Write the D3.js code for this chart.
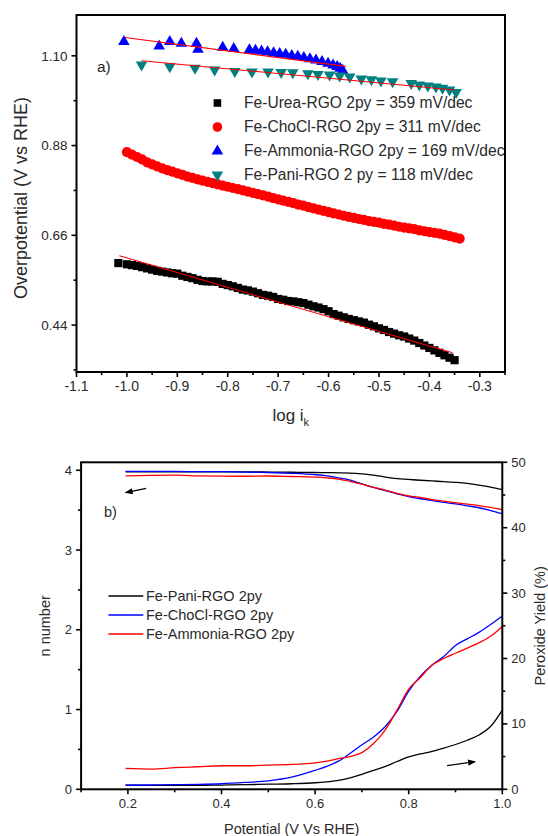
<!DOCTYPE html>
<html><head><meta charset="utf-8">
<script src="https://cdn.jsdelivr.net/npm/d3@7"></script>
<style>
body{margin:0;background:#fff}
svg{display:block;font-family:"Liberation Sans",Arial,sans-serif}
</style>
</head><body>
<svg id="c" width="548" height="836"></svg>
<script>
// ---------------- Panel a) Tafel data ----------------
const tafelLabels = [
  "Fe-Urea-RGO 2py = 359 mV/dec",
  "Fe-ChoCl-RGO 2py = 311 mV/dec",
  "Fe-Ammonia-RGO 2py = 169 mV/dec",
  "Fe-Pani-RGO 2 py = 118 mV/dec"
];
const tafelColors = ["#000000", "#ff0000", "#0000ff", "#008080"];

const ureaX = [-1.017,-1.00,-0.99,-0.98,-0.97,-0.96,-0.95,-0.94,-0.93,-0.92,-0.91,-0.90,-0.89,-0.88,-0.87,-0.86,-0.85,-0.84,-0.83,-0.82,-0.81,-0.80,-0.79,-0.78,-0.77,-0.76,-0.75,-0.74,-0.73,-0.72,-0.71,-0.70,-0.69,-0.68,-0.67,-0.66,-0.65,-0.64,-0.63,-0.62,-0.61,-0.60,-0.59,-0.58,-0.57,-0.56,-0.55,-0.54,-0.53,-0.52,-0.51,-0.50,-0.49,-0.48,-0.47,-0.46,-0.45,-0.44,-0.43,-0.42,-0.41,-0.40,-0.39,-0.38,-0.37,-0.36,-0.35];
const ureaY = [0.592,0.589,0.587,0.585,0.582,0.579,0.576,0.573,0.571,0.569,0.567,0.566,0.561,0.558,0.555,0.551,0.548,0.547,0.547,0.546,0.541,0.538,0.535,0.531,0.527,0.525,0.522,0.518,0.514,0.512,0.509,0.504,0.502,0.499,0.498,0.496,0.494,0.490,0.486,0.483,0.479,0.474,0.467,0.463,0.459,0.455,0.452,0.449,0.446,0.441,0.437,0.432,0.428,0.423,0.419,0.415,0.412,0.407,0.402,0.396,0.390,0.384,0.378,0.372,0.366,0.360,0.354];

const cholX = [-1.00,-0.99,-0.98,-0.97,-0.96,-0.95,-0.94,-0.93,-0.92,-0.91,-0.90,-0.89,-0.88,-0.87,-0.86,-0.85,-0.84,-0.83,-0.82,-0.81,-0.80,-0.79,-0.78,-0.77,-0.76,-0.75,-0.74,-0.73,-0.72,-0.71,-0.70,-0.69,-0.68,-0.67,-0.66,-0.65,-0.64,-0.63,-0.62,-0.61,-0.60,-0.59,-0.58,-0.57,-0.56,-0.55,-0.54,-0.53,-0.52,-0.51,-0.50,-0.49,-0.48,-0.47,-0.46,-0.45,-0.44,-0.43,-0.42,-0.41,-0.40,-0.39,-0.38,-0.37,-0.36,-0.35,-0.34];
const cholY = [0.864,0.858,0.852,0.846,0.839,0.834,0.829,0.824,0.820,0.816,0.812,0.808,0.804,0.801,0.797,0.794,0.791,0.788,0.785,0.782,0.779,0.776,0.773,0.770,0.767,0.764,0.761,0.758,0.755,0.751,0.748,0.745,0.742,0.739,0.735,0.733,0.729,0.726,0.723,0.720,0.717,0.714,0.711,0.708,0.705,0.703,0.700,0.698,0.695,0.693,0.691,0.688,0.686,0.684,0.681,0.679,0.677,0.675,0.672,0.670,0.668,0.666,0.664,0.661,0.658,0.655,0.652];

const ammX = [-1.006,-0.936,-0.915,-0.892,-0.862,-0.859,-0.810,-0.788,-0.757,-0.745,-0.733,-0.721,-0.709,-0.697,-0.685,-0.673,-0.661,-0.649,-0.637,-0.625,-0.613,-0.601,-0.591,-0.583,-0.577,-0.572];
const ammY = [1.135,1.124,1.135,1.131,1.131,1.116,1.121,1.118,1.115,1.114,1.112,1.110,1.108,1.106,1.104,1.101,1.099,1.096,1.093,1.090,1.086,1.082,1.078,1.074,1.070,1.065];

const paniX = [-0.971,-0.915,-0.865,-0.826,-0.786,-0.752,-0.720,-0.694,-0.671,-0.641,-0.621,-0.598,-0.578,-0.558,-0.535,-0.515,-0.496,-0.473,-0.436,-0.420,-0.403,-0.387,-0.374,-0.360,-0.347];
const paniY = [1.077,1.073,1.069,1.065,1.061,1.060,1.060,1.059,1.058,1.056,1.054,1.053,1.050,1.048,1.043,1.041,1.038,1.036,1.032,1.028,1.026,1.023,1.020,1.016,1.010];

// linear fit end points [x, y]
const fitUrea = [[-1.015, 0.610], [-0.354, 0.372]];
const fitAmm  = [[-1.004, 1.145], [-0.566, 1.074]];
const fitPani = [[-0.971, 1.088], [-0.350, 1.016]];

const xTicksA = [-1.1,-1.0,-0.9,-0.8,-0.7,-0.6,-0.5,-0.4,-0.3];
const xMinorA = [-1.05,-0.95,-0.85,-0.75,-0.65,-0.55,-0.45,-0.35,-0.25];
const yTicksA = [0.44,0.66,0.88,1.10];
const yMinorA = [0.33,0.55,0.77,0.99];

// ---------------- Panel b) RRDE data ----------------
const rrdeLabels = ["Fe-Pani-RGO 2py", "Fe-ChoCl-RGO 2py", "Fe-Ammonia-RGO 2py"];
const rrdeColors = ["#000000", "#0000ff", "#ff0000"];
const potential = [0.195,0.25,0.30,0.35,0.40,0.45,0.50,0.55,0.60,0.625,0.65,0.675,0.70,0.725,0.75,0.775,0.80,0.825,0.85,0.875,0.90,0.925,0.95,0.975,1.0];
const nPani  = [3.98,3.98,3.98,3.98,3.98,3.98,3.978,3.975,3.972,3.97,3.968,3.965,3.955,3.94,3.915,3.895,3.885,3.875,3.866,3.858,3.848,3.835,3.815,3.79,3.758];
const nChoCl = [3.985,3.985,3.985,3.983,3.982,3.978,3.972,3.962,3.945,3.93,3.905,3.875,3.83,3.785,3.745,3.705,3.67,3.643,3.62,3.598,3.578,3.555,3.53,3.495,3.455];
const nAmm   = [3.93,3.935,3.938,3.93,3.926,3.925,3.928,3.922,3.915,3.905,3.89,3.862,3.825,3.785,3.752,3.71,3.68,3.66,3.632,3.612,3.594,3.575,3.558,3.535,3.505];
const h2o2Pani  = [0.62,0.6,0.62,0.6,0.65,0.7,0.78,0.85,1.0,1.15,1.35,1.75,2.3,2.9,3.5,4.25,4.95,5.4,5.8,6.3,6.85,7.5,8.3,9.6,12.1];
const h2o2ChoCl = [0.62,0.66,0.7,0.75,0.85,1.05,1.3,1.85,2.9,3.5,4.3,5.5,6.8,8.0,9.6,11.9,15.0,17.3,19.0,20.3,22.0,23.0,24.0,25.2,26.5];
const h2o2Amm   = [3.2,3.1,3.3,3.45,3.6,3.6,3.7,3.8,4.05,4.3,4.7,5.0,5.6,7.0,9.1,12.1,15.3,17.1,19.0,20.0,20.8,21.6,22.4,23.4,24.9];

const xTicksB = [0.2,0.4,0.6,0.8,1.0];
const xMinorB = [0.1,0.3,0.5,0.7,0.9];
const yTicksBL = [0,1,2,3,4];
const yMinorBL = [0.5,1.5,2.5,3.5];
const yTicksBR = [0,10,20,30,40,50];
const yMinorBR = [5,15,25,35,45];

// annotation arrows in data coords [x, y]
const arrowN = [[0.239, 3.774], [0.195, 3.719]];
const arrowP = [[0.882, 3.61], [0.942, 4.22]];

// ================= drawing =================
const svg = d3.select("#c");
const txt = "#2a2a2a";

// ---------- panel a ----------
const xA = d3.scaleLinear().domain([-1.1, -0.25]).range([76.5, 505]);
const yA = d3.scaleLinear().domain([0.325, 1.2]).range([372, 15]);
const gA = svg.append("g");

function ticks(g, scale, vals, orient, len, fmt, fs, pos) {
  vals.forEach(v => {
    const p = scale(v);
    if (orient === "bottom") {
      g.append("line").attr("x1", p).attr("x2", p).attr("y1", pos).attr("y2", pos + len).attr("stroke", "#000").attr("stroke-width", 1.6);
      if (fmt) g.append("text").attr("x", p).attr("y", pos + len + 14).attr("text-anchor", "middle").attr("font-size", fs).attr("fill", txt).text(fmt(v));
    } else if (orient === "left") {
      g.append("line").attr("y1", p).attr("y2", p).attr("x1", pos).attr("x2", pos - len).attr("stroke", "#000").attr("stroke-width", 1.6);
      if (fmt) g.append("text").attr("x", pos - len - 4).attr("y", p).attr("dy", "0.35em").attr("text-anchor", "end").attr("font-size", fs).attr("fill", txt).text(fmt(v));
    } else {
      g.append("line").attr("y1", p).attr("y2", p).attr("x1", pos).attr("x2", pos + len).attr("stroke", "#000").attr("stroke-width", 1.6);
      if (fmt) g.append("text").attr("x", pos + len + 4).attr("y", p).attr("dy", "0.35em").attr("text-anchor", "start").attr("font-size", fs).attr("fill", txt).text(fmt(v));
    }
  });
}

const f1 = v => v.toFixed(1).replace("\u2212", "-");
const f2 = v => v.toFixed(2);

ticks(gA, xA, xTicksA, "bottom", 5, f1, 14, yA.range()[0]);
ticks(gA, xA, xMinorA, "bottom", 3, null, 14, yA.range()[0]);
ticks(gA, yA, yTicksA, "left", 5, f2, 13.5, xA.range()[0]);
ticks(gA, yA, yMinorA, "left", 3, null, 13.5, xA.range()[0]);

gA.append("rect").attr("x", xA.range()[0]).attr("y", yA.range()[1])
  .attr("width", xA.range()[1] - xA.range()[0]).attr("height", yA.range()[0] - yA.range()[1])
  .attr("fill", "none").attr("stroke", "#000").attr("stroke-width", 2);

// markers
const triUp = "M0,-6.4L5.8,3.6L-5.8,3.6Z";
const triDn = "M0,6.4L5.8,-3.6L-5.8,-3.6Z";
const sq = 8.2, cr = 5.1;

gA.append("g").selectAll("rect").data(d3.zip(ureaX, ureaY)).join("rect")
  .attr("x", d => xA(d[0]) - sq / 2).attr("y", d => yA(d[1]) - sq / 2)
  .attr("width", sq).attr("height", sq).attr("fill", tafelColors[0]);
gA.append("g").selectAll("circle").data(d3.zip(cholX, cholY)).join("circle")
  .attr("cx", d => xA(d[0])).attr("cy", d => yA(d[1])).attr("r", cr).attr("fill", tafelColors[1]);
gA.append("g").selectAll("path").data(d3.zip(ammX, ammY)).join("path")
  .attr("d", triUp).attr("transform", d => `translate(${xA(d[0])},${yA(d[1])})`).attr("fill", tafelColors[2]);
gA.append("g").selectAll("path").data(d3.zip(paniX, paniY)).join("path")
  .attr("d", triDn).attr("transform", d => `translate(${xA(d[0])},${yA(d[1])})`).attr("fill", tafelColors[3]);

const lineA = d3.line().x(d => xA(d[0])).y(d => yA(d[1]));
[fitUrea, fitAmm, fitPani].forEach(f => {
  gA.append("path").attr("d", lineA(f)).attr("stroke", "#ff0000").attr("stroke-width", 1.1).attr("fill", "none");
});

// legend a
const legA = gA.append("g");
const legRowsA = [103, 127, 151, 175];
const legSyms = ["sq", "ci", "up", "dn"];
legRowsA.forEach((yy, i) => {
  const cx = 217.4;
  if (legSyms[i] === "sq") legA.append("rect").attr("x", cx - 3.8).attr("y", yy - 3.8).attr("width", 7.6).attr("height", 7.6).attr("fill", tafelColors[i]);
  if (legSyms[i] === "ci") legA.append("circle").attr("cx", cx).attr("cy", yy).attr("r", 4.8).attr("fill", tafelColors[i]);
  if (legSyms[i] === "up") legA.append("path").attr("d", triUp).attr("transform", `translate(${cx},${yy})`).attr("fill", tafelColors[i]);
  if (legSyms[i] === "dn") legA.append("path").attr("d", triDn).attr("transform", `translate(${cx},${yy})`).attr("fill", tafelColors[i]);
  legA.append("text").attr("x", 244).attr("y", yy).attr("dy", "0.35em").attr("font-size", 15.6).attr("fill", txt).text(tafelLabels[i]);
});

gA.append("text").attr("x", 97).attr("y", 67).attr("dy", "0.35em").attr("font-size", 15.5).attr("fill", txt).text("a)");

// axis titles a
gA.append("text").attr("transform", `translate(21,198) rotate(-90)`)
  .attr("text-anchor", "middle").attr("dy", "0.35em").attr("font-size", 18).attr("fill", txt).text("Overpotential (V vs RHE)");
const xt = gA.append("text").attr("x", (xA.range()[0] + xA.range()[1]) / 2).attr("y", 421)
  .attr("text-anchor", "middle").attr("font-size", 17).attr("fill", txt);
xt.append("tspan").text("log i");
xt.append("tspan").attr("dy", 5).attr("font-size", 11).text("k");

// ---------- panel b ----------
const xB = d3.scaleLinear().domain([0.1, 1.0]).range([81.1, 502.3]);
const yBL = d3.scaleLinear().domain([0, 4.1]).range([789.3, 462.3]);
const yBR = d3.scaleLinear().domain([0, 50]).range([789.3, 462.3]);
const gB = svg.append("g");

const fB = v => v.toFixed(1);
const fI = v => String(v);
ticks(gB, xB, xTicksB, "bottom", 5, fB, 13, yBL.range()[0]);
ticks(gB, xB, xMinorB, "bottom", 3, null, 13, yBL.range()[0]);
ticks(gB, yBL, yTicksBL, "left", 5, fI, 13, xB.range()[0]);
ticks(gB, yBL, yMinorBL, "left", 3, null, 13, xB.range()[0]);
ticks(gB, yBR, yTicksBR, "right", 5, fI, 13, xB.range()[1]);
ticks(gB, yBR, yMinorBR, "right", 3, null, 13, xB.range()[1]);

const lineN = d3.line().x(d => xB(d[0])).y(d => yBL(d[1])).curve(d3.curveMonotoneX);
const lineP = d3.line().x(d => xB(d[0])).y(d => yBR(d[1])).curve(d3.curveMonotoneX);
const nSeries = [nPani, nChoCl, nAmm];
const pSeries = [h2o2Pani, h2o2ChoCl, h2o2Amm];
nSeries.forEach((s, i) => {
  gB.append("path").attr("d", lineN(d3.zip(potential, s))).attr("stroke", rrdeColors[i]).attr("stroke-width", 1.3).attr("fill", "none");
});
pSeries.forEach((s, i) => {
  gB.append("path").attr("d", lineP(d3.zip(potential, s))).attr("stroke", rrdeColors[i]).attr("stroke-width", 1.3).attr("fill", "none");
});

gB.append("rect").attr("x", xB.range()[0]).attr("y", yBL.range()[1])
  .attr("width", xB.range()[1] - xB.range()[0]).attr("height", yBL.range()[0] - yBL.range()[1])
  .attr("fill", "none").attr("stroke", "#000").attr("stroke-width", 2);

// legend b
const legRowsB = [596, 615, 634];
legRowsB.forEach((yy, i) => {
  gB.append("line").attr("x1", 108.4).attr("x2", 143.3).attr("y1", yy).attr("y2", yy).attr("stroke", rrdeColors[i]).attr("stroke-width", 1.4);
  gB.append("text").attr("x", 146).attr("y", yy).attr("dy", "0.35em").attr("font-size", 14.5).attr("fill", txt).text(rrdeLabels[i]);
});

gB.append("text").attr("x", 104).attr("y", 512).attr("dy", "0.35em").attr("font-size", 14.5).attr("fill", txt).text("b)");

// arrows
svg.append("defs").append("marker").attr("id", "ah").attr("viewBox", "0 0 10 10").attr("refX", 9).attr("refY", 5)
  .attr("markerWidth", 7).attr("markerHeight", 6).attr("orient", "auto")
  .append("path").attr("d", "M0,1L10,5L0,9Z").attr("fill", "#000");
gB.append("line").attr("x1", xB(arrowN[0][0])).attr("y1", yBL(arrowN[0][1])).attr("x2", xB(arrowN[1][0])).attr("y2", yBL(arrowN[1][1]))
  .attr("stroke", "#000").attr("stroke-width", 1.3).attr("marker-end", "url(#ah)");
gB.append("line").attr("x1", xB(arrowP[0][0])).attr("y1", yBR(arrowP[0][1])).attr("x2", xB(arrowP[1][0])).attr("y2", yBR(arrowP[1][1]))
  .attr("stroke", "#000").attr("stroke-width", 1.3).attr("marker-end", "url(#ah)");

// axis titles b
const cyB = (yBL.range()[0] + yBL.range()[1]) / 2;
gB.append("text").attr("transform", `translate(45,${cyB}) rotate(-90)`).attr("text-anchor", "middle").attr("dy", "0.35em")
  .attr("font-size", 14.5).attr("fill", txt).text("n number");
gB.append("text").attr("transform", `translate(540,${cyB}) rotate(-90)`).attr("text-anchor", "middle").attr("dy", "0.35em")
  .attr("font-size", 14.5).attr("fill", txt).text("Peroxide Yield (%)");
gB.append("text").attr("x", (xB.range()[0] + xB.range()[1]) / 2).attr("y", 834).attr("text-anchor", "middle")
  .attr("font-size", 14.5).attr("fill", txt).text("Potential (V Vs RHE)");
</script>
</body></html>
